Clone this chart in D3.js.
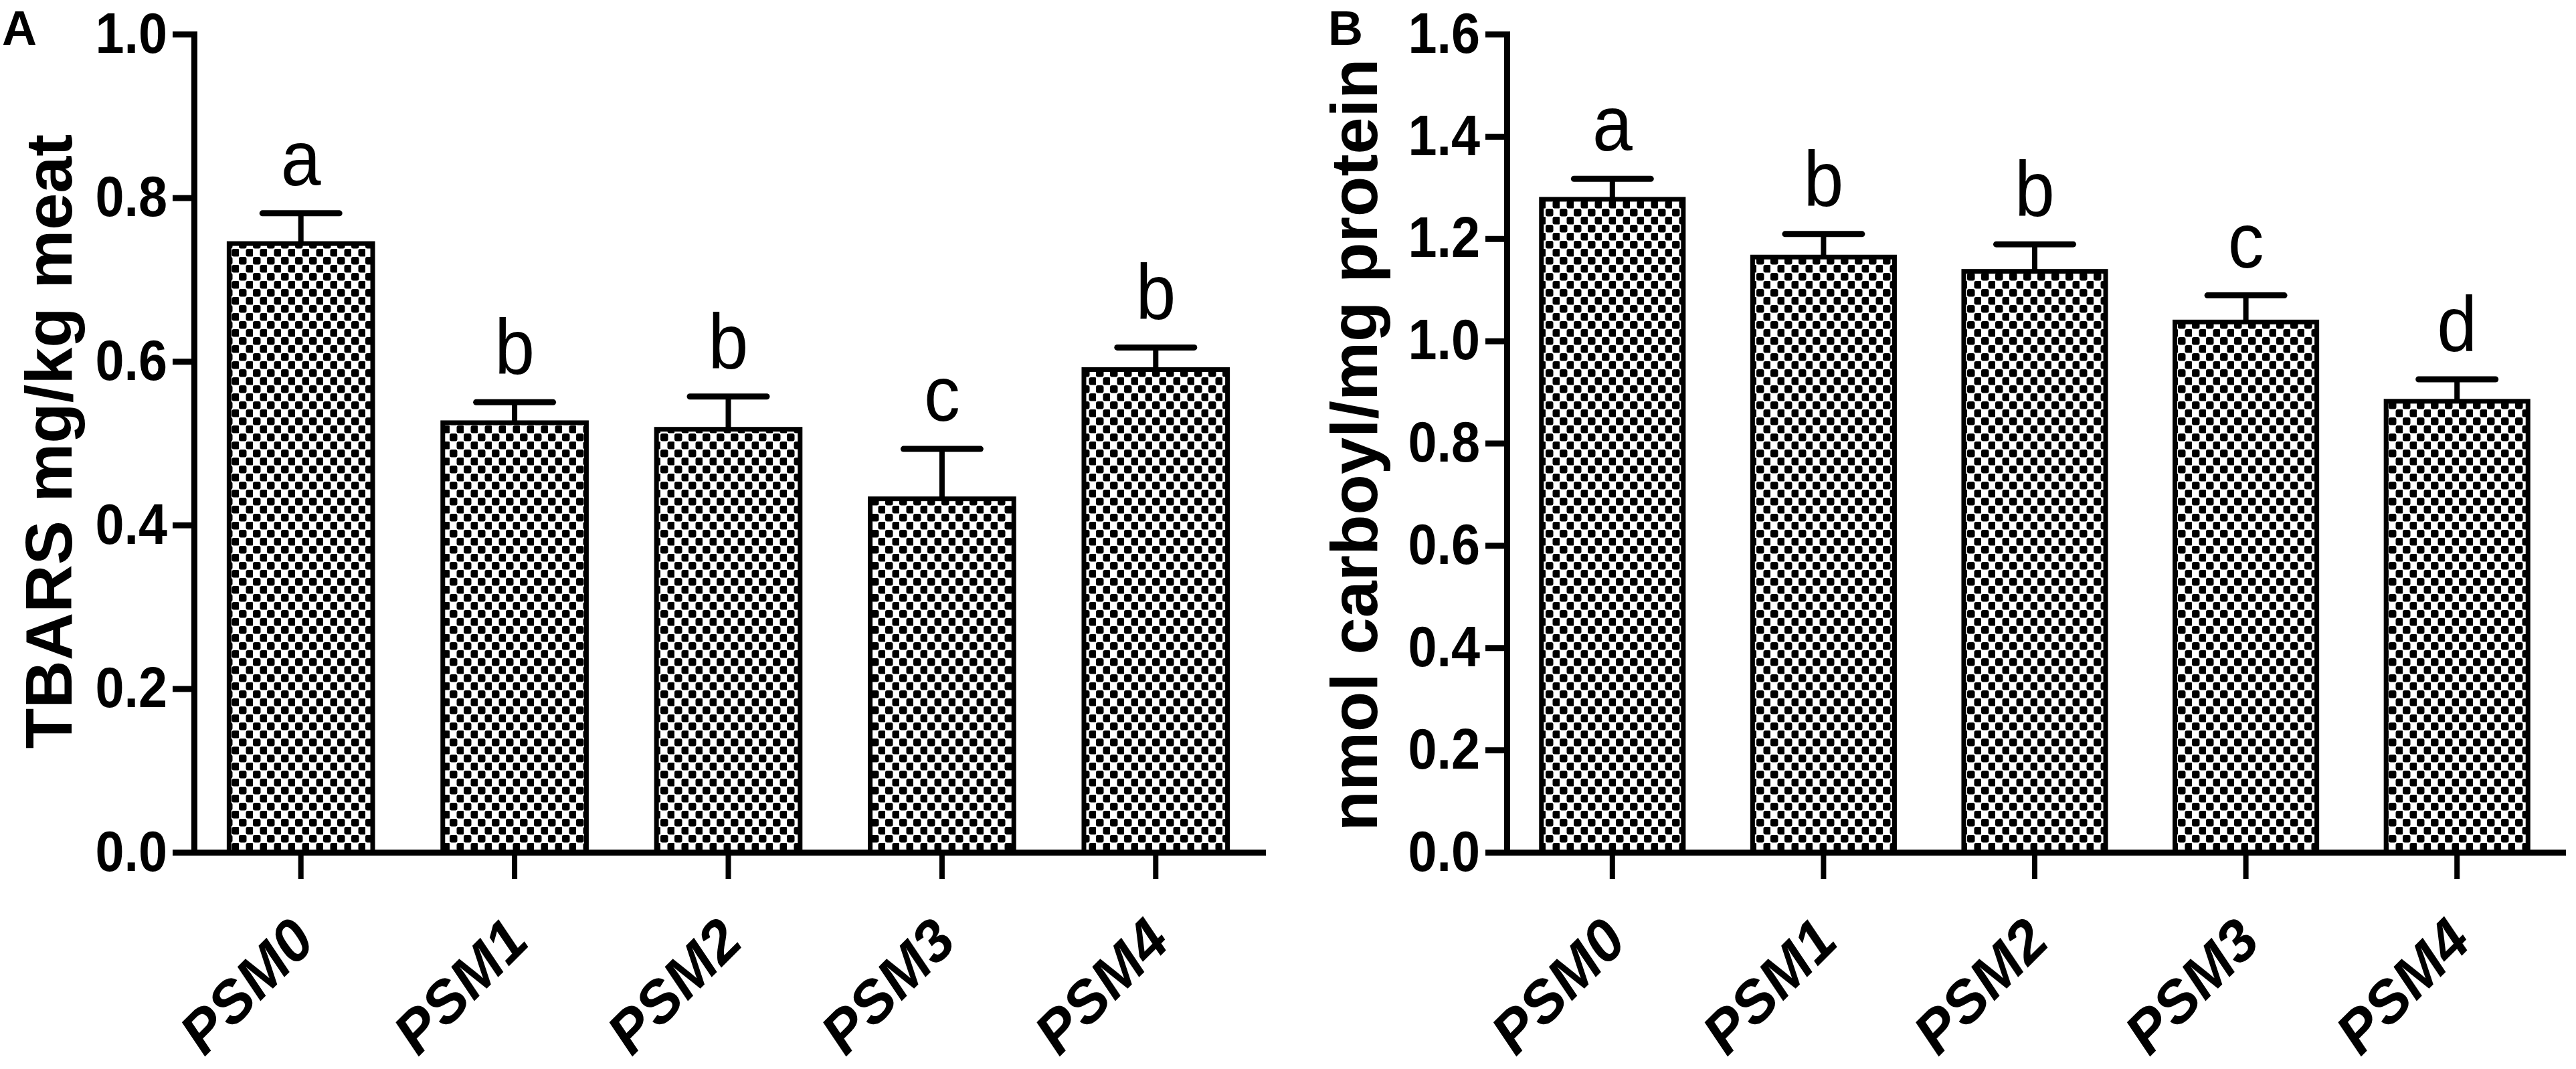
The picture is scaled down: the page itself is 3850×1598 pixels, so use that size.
<!DOCTYPE html>
<html>
<head>
<meta charset="utf-8">
<script src="https://cdn.jsdelivr.net/npm/d3@7"></script>
<style>
  body { margin: 0; background: #fff; }
  text { font-family: "Liberation Sans", Arial, sans-serif; fill: #000; }
</style>
</head>
<body>
<script>
// groups on the x axis
var groups = ['PSM0', 'PSM1', 'PSM2', 'PSM3', 'PSM4']

// panel A: TBARS (mg/kg meat), mean and SE
var tbarsMean = [0.744, 0.525, 0.517, 0.432, 0.590]
var tbarsErr = [0.037, 0.025, 0.040, 0.061, 0.027]
var tbarsLetters = ['a', 'b', 'b', 'c', 'b']
var tbarsTicks = [0, 0.2, 0.4, 0.6, 0.8, 1.0]

// panel B: carbonyl (nmol/mg protein), mean and SE
var carbMean = [1.277, 1.164, 1.136, 1.037, 0.882]
var carbErr = [0.040, 0.045, 0.053, 0.052, 0.043]
var carbLetters = ['a', 'b', 'b', 'c', 'd']
var carbTicks = [0, 0.2, 0.4, 0.6, 0.8, 1.0, 1.2, 1.4, 1.6]

var W = 3850, H = 1598
var top0 = 51, base = 1274

var svg = d3.select('body').append('svg')
  .attr('width', W)
  .attr('height', H)

// dotted fill like the GraphPad hatch
var pat = svg.append('defs').append('pattern')
  .attr('id', 'dots')
  .attr('patternUnits', 'userSpaceOnUse')
  .attr('width', 21)
  .attr('height', 24)
pat.append('rect').attr('width', 21).attr('height', 24).attr('fill', '#fff')
pat.append('rect').attr('x', 0).attr('y', 0).attr('width', 11.5).attr('height', 11.5).attr('rx', 3).attr('fill', '#000')
pat.append('rect').attr('x', 10.5).attr('y', 12).attr('width', 11.5).attr('height', 11.5).attr('rx', 3).attr('fill', '#000')

function makePanel(opt) {
  var g = svg.append('g')

  var x = d3.scaleBand()
    .domain(groups)
    .range([opt.left, opt.right])
    .paddingInner(0.328)
    .paddingOuter(0.164)

  var y = d3.scaleLinear()
    .domain([0, opt.max])
    .range([base, top0])

  // bars
  g.selectAll('.bar').data(opt.mean).enter().append('rect')
    .attr('class', 'bar')
    .attr('x', (d, i) => x(groups[i]))
    .attr('y', d => y(d))
    .attr('width', x.bandwidth())
    .attr('height', d => base - y(d))
    .attr('fill', 'url(#dots)')
    .attr('stroke', '#000')
    .attr('stroke-width', 7)

  // error bars (upper only)
  var capW = 115
  g.selectAll('.stem').data(opt.mean).enter().append('line')
    .attr('x1', (d, i) => x(groups[i]) + x.bandwidth() / 2)
    .attr('x2', (d, i) => x(groups[i]) + x.bandwidth() / 2)
    .attr('y1', d => y(d))
    .attr('y2', (d, i) => y(d + opt.err[i]))
    .attr('stroke', '#000')
    .attr('stroke-width', 8)
  g.selectAll('.cap').data(opt.mean).enter().append('line')
    .attr('x1', (d, i) => x(groups[i]) + x.bandwidth() / 2 - capW / 2)
    .attr('x2', (d, i) => x(groups[i]) + x.bandwidth() / 2 + capW / 2)
    .attr('y1', (d, i) => y(d + opt.err[i]))
    .attr('y2', (d, i) => y(d + opt.err[i]))
    .attr('stroke', '#000')
    .attr('stroke-width', 9)
    .attr('stroke-linecap', 'round')

  // significance letters
  g.selectAll('.sig').data(opt.letters).enter().append('text')
    .attr('transform', (d, i) => 'translate(' + (x(groups[i]) + x.bandwidth() / 2) + ',' +
      (y(opt.mean[i] + opt.err[i]) - 42) + ') scale(0.92,1)')
    .attr('text-anchor', 'middle')
    .style('font-size', '117px')
    .text(d => d)

  // y axis
  var yAxis = g.append('g')
    .attr('transform', 'translate(' + opt.left + ',0)')
    .call(d3.axisLeft(y).tickValues(opt.ticks).tickFormat(d3.format('.1f')).tickSize(32).tickSizeOuter(0))
  yAxis.select('.domain').attr('stroke-width', 9).attr('stroke-linecap', 'square')
  yAxis.selectAll('.tick line').attr('stroke-width', 9)
  yAxis.selectAll('.tick text')
    .attr('x', 0)
    .attr('transform', 'translate(-40,0) scale(0.91,1)')
    .style('font-size', '85px')
    .style('font-weight', 'bold')
    .style('font-family', '"Liberation Sans", Arial, sans-serif')

  // x axis
  var xAxis = g.append('g')
    .attr('transform', 'translate(0,' + base + ')')
    .call(d3.axisBottom(x).tickSize(40).tickSizeOuter(0))
  xAxis.select('.domain').attr('stroke-width', 9).attr('stroke-linecap', 'square')
  xAxis.selectAll('.tick line').attr('stroke-width', 8)
  xAxis.selectAll('.tick text')
    .attr('x', 0)
    .attr('y', 0)
    .attr('dy', 0)
    .attr('transform', 'translate(25,137) rotate(-45)')
    .attr('text-anchor', 'end')
    .style('font-size', '88px')
    .style('font-weight', 'bold')
    .style('font-style', 'italic')
    .style('font-family', '"Liberation Sans", Arial, sans-serif')

  // axis title
  g.append('text')
    .attr('transform', 'translate(' + opt.titleX + ',' + opt.titleY + ') rotate(-90)')
    .attr('text-anchor', 'middle')
    .style('font-size', '99px')
    .style('font-weight', 'bold')
    .text(opt.title)

  // panel letter
  g.append('text')
    .attr('x', opt.tagX)
    .attr('y', 67)
    .style('font-size', '72px')
    .style('font-weight', 'bold')
    .text(opt.tag)
}

makePanel({
  left: 290, right: 1887, max: 1.0,
  mean: tbarsMean, err: tbarsErr, letters: tbarsLetters, ticks: tbarsTicks,
  title: 'TBARS mg/kg meat', titleX: 107, titleY: 660,
  tag: 'A', tagX: 3
})

makePanel({
  left: 2252, right: 3830, max: 1.6,
  mean: carbMean, err: carbErr, letters: carbLetters, ticks: carbTicks,
  title: 'nmol carboyl/mg protein', titleX: 2058, titleY: 665,
  tag: 'B', tagX: 1985
})
</script>
</body>
</html>
